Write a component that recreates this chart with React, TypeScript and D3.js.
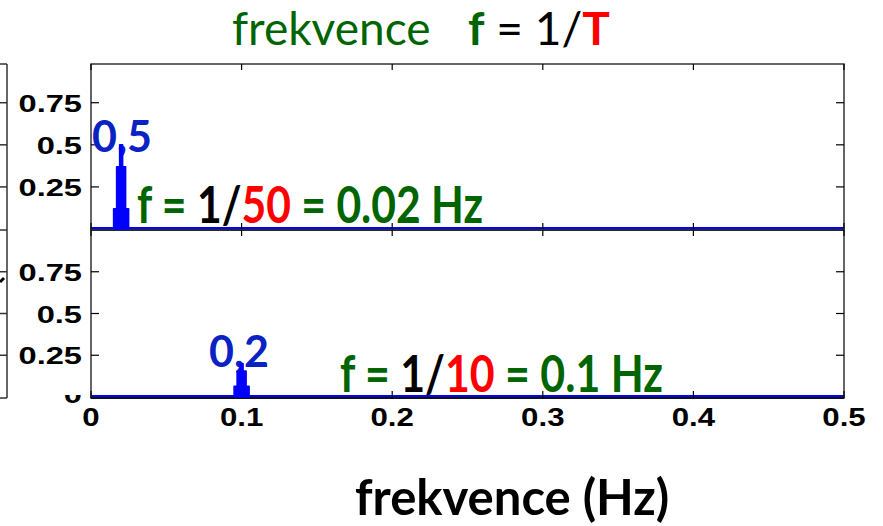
import * as React from "react";
import * as d3 from "d3";

// frequency axis
const freqTicks = [0, 0.1, 0.2, 0.3, 0.4, 0.5];
const freqTickLabels = ["0", "0.1", "0.2", "0.3", "0.4", "0.5"];
// amplitude axis
const ampTicks = [0.25, 0.5, 0.75];
const ampTickLabels = ["0.25", "0.5", "0.75"];

// spectrum samples around each peak (step 0.002 Hz)
const peak1Freq = [0.016, 0.018, 0.02, 0.022, 0.024];
const peak1Amp = [0.12, 0.37, 0.5, 0.37, 0.12];
const peak2Freq = [0.096, 0.098, 0.1, 0.102, 0.104];
const peak2Amp = [0.065, 0.155, 0.2, 0.155, 0.065];
const sampleStep = 0.002;

const peakLabels = ["0,5", "0,2"];

const GREEN = "#006400";
const RED = "#ff0000";
const BLUE = "#0000ff";
const LABEL_BLUE = "#0a22c4";
const FRAME = "#333";
const SANS = "Lato, 'Open Sans', sans-serif";
const MATLAB = "'Liberation Sans', Arial, sans-serif";

const W = 883;
const H = 526;

const App = () => {
  const x = d3.scaleLinear().domain([0, 0.5]).range([91, 844]);
  const yTop = d3.scaleLinear().domain([0, 0.98]).range([229, 64]);
  const yBot = d3.scaleLinear().domain([0, 1]).range([397, 230]);

  const panels = [
    { y: yTop, freq: peak1Freq, amp: peak1Amp },
    { y: yBot, freq: peak2Freq, amp: peak2Amp },
  ];

  const sampleW = x(sampleStep) - x(0);

  return (
    <svg
      width={W}
      height={H}
      style={{ position: "absolute", left: 0, top: 0, background: "#fff" }}
    >
      {/* title */}
      <text x={232} y={45} fontFamily={SANS} fontSize={46} xmlSpace="preserve">
        <tspan fill={GREEN}>frekvence</tspan>
        <tspan x={468} fill={GREEN} fontWeight="bold">f</tspan>
        <tspan fill="#000"> = 1/</tspan>
        <tspan fill={RED} fontWeight="bold">T</tspan>
      </text>

      {/* fragment of the neighbouring figure on the left */}
      <g stroke={FRAME} strokeWidth={1.5}>
        <line x1={7} x2={7} y1={64} y2={398} />
        {[64, 230, 398].map((v) => (
          <line key={"e" + v} x1={0} x2={7} y1={v} y2={v} />
        ))}
        {panels.map((p, i) =>
          ampTicks.map((t) => (
            <line key={"l" + i + t} x1={0} x2={7} y1={p.y(t)} y2={p.y(t)} />
          ))
        )}
      </g>
      <path d="M0,282 L4,278" stroke="#000" strokeWidth={3} />

      {panels.map((p, i) => {
        const [y0, y1] = p.y.range();
        return (
          <g key={i}>
            {/* baseline of the spectrum */}
            <line
              x1={x(0)}
              x2={x(0.5)}
              y1={p.y(0) - 0.5}
              y2={p.y(0) - 0.5}
              stroke={BLUE}
              strokeWidth={3}
            />
            {/* frame */}
            <rect
              x={x(0)}
              y={y1}
              width={x(0.5) - x(0)}
              height={y0 - y1 + 1}
              fill="none"
              stroke={FRAME}
              strokeWidth={1.5}
            />
            <line x1={x(0)} x2={x(0.5)} y1={y0 + 1} y2={y0 + 1} stroke="#111" strokeWidth={2} />
            {/* y ticks */}
            {ampTicks.map((t) => (
              <g key={t} stroke="#000" strokeWidth={1.2}>
                <line x1={x(0)} x2={x(0) + 8} y1={p.y(t)} y2={p.y(t)} />
                <line x1={x(0.5) - 8} x2={x(0.5)} y1={p.y(t)} y2={p.y(t)} />
              </g>
            ))}
            {/* x ticks */}
            {freqTicks.map((t) => (
              <g key={t} stroke="#000" strokeWidth={1.2}>
                <line x1={x(t)} x2={x(t)} y1={y1} y2={y1 + 6} />
                <line x1={x(t)} x2={x(t)} y1={y0 + 1} y2={y0 - 6} />
              </g>
            ))}
            {/* y tick labels */}
            {ampTicks.map((t, j) => (
              <text
                key={t}
                transform={`translate(82,${p.y(t) + 9}) scale(1.36,1)`}
                textAnchor="end"
                fontFamily={MATLAB}
                fontWeight="bold"
                fontSize={24}
                fill="#000"
              >
                {ampTickLabels[j]}
              </text>
            ))}
          </g>
        );
      })}

      {/* partly hidden zero label of the lower panel */}
      <clipPath id="zeroClip">
        <rect x={60} y={395} width={30} height={20} />
      </clipPath>
      <g clipPath="url(#zeroClip)">
        <text
          transform={`translate(82,${yBot(0) + 6}) scale(1.36,1)`}
          textAnchor="end"
          fontFamily={MATLAB}
          fontWeight="bold"
          fontSize={24}
        >
          0
        </text>
      </g>

      {/* peak values */}
      <text x={92} y={152} fontFamily={SANS} fontWeight="bold" fontSize={43} fill={LABEL_BLUE}>
        {peakLabels[0]}
      </text>
      <text x={209} y={367} fontFamily={SANS} fontWeight="bold" fontSize={43} fill={LABEL_BLUE}>
        {peakLabels[1]}
      </text>

      {/* spectrum peaks */}
      {panels.map((p, i) =>
        p.freq.map((f, j) => (
          <rect
            key={i + "-" + j}
            x={x(f) - sampleW / 2}
            y={p.y(p.amp[j])}
            width={sampleW}
            height={p.y(0) - p.y(p.amp[j])}
            fill={BLUE}
            stroke={BLUE}
            strokeWidth={1.5}
            strokeLinejoin="round"
          />
        ))
      )}

      {/* x tick labels */}
      {freqTicks.map((t, j) => (
        <text
          key={t}
          transform={`translate(${x(t)},426) scale(1.2,1)`}
          textAnchor="middle"
          fontFamily={MATLAB}
          fontWeight="bold"
          fontSize={26}
        >
          {freqTickLabels[j]}
        </text>
      ))}

      {/* annotations */}
      <text
        transform="translate(137,223) scale(1.04,1.25)"
        fontFamily={SANS}
        fontWeight="bold"
        fontSize={41}
        xmlSpace="preserve"
      >
        <tspan fill={GREEN}>f = </tspan>
        <tspan fill="#000">1/</tspan>
        <tspan fill={RED}>50</tspan>
        <tspan fill={GREEN}> = 0.02 Hz</tspan>
      </text>
      <text
        transform="translate(340,392) scale(1.045,1.25)"
        fontFamily={SANS}
        fontWeight="bold"
        fontSize={41}
        xmlSpace="preserve"
      >
        <tspan fill={GREEN}>f = </tspan>
        <tspan fill="#000">1/</tspan>
        <tspan fill={RED}>10</tspan>
        <tspan fill={GREEN}> = 0.1 Hz</tspan>
      </text>

      {/* axis title */}
      <text x={355} y={515} fontFamily={SANS} fontWeight="bold" fontSize={49} fill="#000">
        frekvence (Hz)
      </text>
    </svg>
  );
};

export default App;
